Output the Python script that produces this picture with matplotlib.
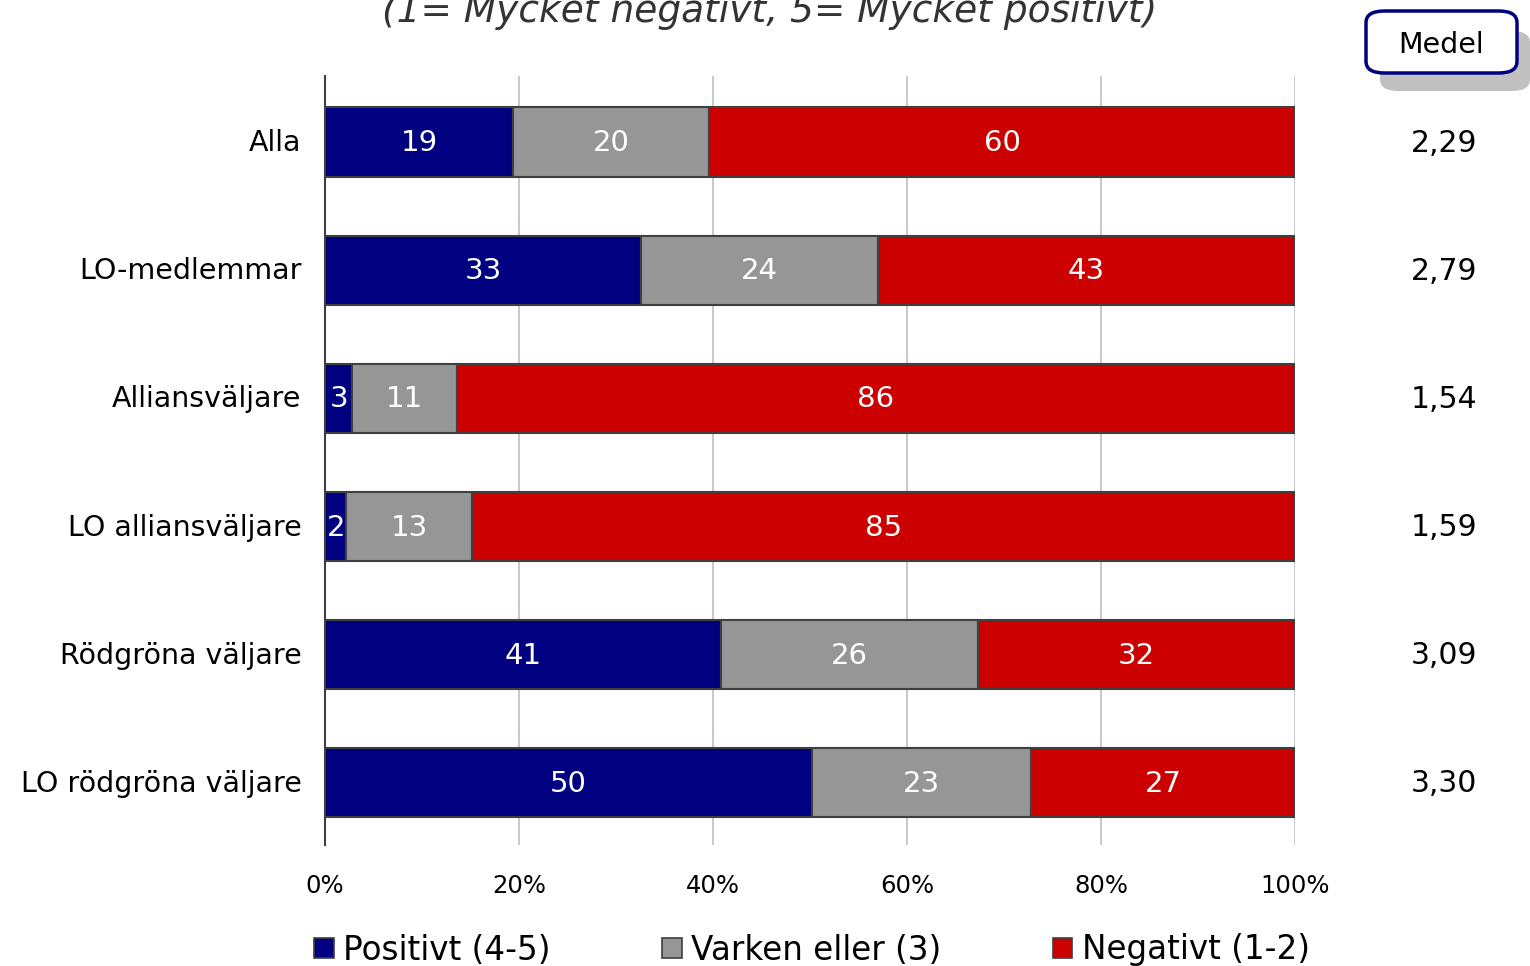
import numpy as np
import matplotlib.pyplot as plt
from matplotlib.patches import FancyBboxPatch, Patch

# data
groups = ['Alla', 'LO-medlemmar', 'Alliansväljare', 'LO alliansväljare',
          'Rödgröna väljare', 'LO rödgröna väljare']
positiv = [19.4, 32.6, 2.8, 2.2, 40.8, 50.2]
varken = [20.2, 24.4, 10.8, 13.0, 26.5, 22.6]
negativ = [60.4, 43.0, 86.4, 84.8, 32.7, 27.2]
lab_pos = ['19', '33', '3', '2', '41', '50']
lab_var = ['20', '24', '11', '13', '26', '23']
lab_neg = ['60', '43', '86', '85', '32', '27']
medel = ['2,29', '2,79', '1,54', '1,59', '3,09', '3,30']
series_names = ['Positivt (4-5)', 'Varken eller (3)', 'Negativt (1-2)']

navy = '#000080'
grey = '#969696'
red = '#cc0000'
edge = '#404040'

fig = plt.figure(figsize=(15.3, 9.66), dpi=100)
ax = fig.add_axes([325/1530, 1-845/966, 970/1530, 769/966])

y = np.arange(len(groups))
h = 0.54
left = np.zeros(len(groups))
for vals, labs, col in [(positiv, lab_pos, navy), (varken, lab_var, grey), (negativ, lab_neg, red)]:
    vals = np.array(vals)
    ax.barh(y + 0.015, vals, left=left, height=h, color=col, edgecolor=edge, linewidth=1.5, zorder=3)
    for i in range(len(groups)):
        ax.text(left[i] + vals[i]/2, y[i], labs[i], ha='center', va='center_baseline',
                color='white', fontsize=21, zorder=4)
    left = left + vals

ax.set_xlim(0, 100)
ax.set_ylim(len(groups) - 0.5, -0.5)
ax.set_xticks([0, 20, 40, 60, 80, 100])
ax.set_xticklabels(['0%', '20%', '40%', '60%', '80%', '100%'], fontsize=17.5)
ax.set_yticks(y)
ax.set_yticklabels(groups, fontsize=20.5)
ax.tick_params(axis='y', length=0, pad=17)
ax.tick_params(axis='x', length=0, pad=21)
ax.grid(axis='x', color='#c0c0c0', linewidth=1.2, zorder=0)
for s in ['top', 'right', 'bottom']:
    ax.spines[s].set_visible(False)
ax.spines['left'].set_color(edge)
ax.spines['left'].set_linewidth(1.5)
ax.spines['left'].set_zorder(5)

# medel column
trans = ax.get_yaxis_transform()
for i, m in enumerate(medel):
    fig_x = 1444/1530
    ax.text((fig_x - 325/1530) / (970/1530), y[i], m, transform=trans,
            ha='center', va='center_baseline', fontsize=21.5, clip_on=False)

# Medel box with shadow
shadow = FancyBboxPatch((1380/1530, 1-91/966), 150/1530, 60/966,
                        boxstyle='round,pad=0,rounding_size=0.012',
                        transform=fig.transFigure, facecolor='#c0c0c0',
                        edgecolor='none', zorder=1)
box = FancyBboxPatch((1366/1530, 1-73/966), 151/1530, 62/966,
                     boxstyle='round,pad=0,rounding_size=0.012',
                     transform=fig.transFigure, facecolor='white',
                     edgecolor=navy, linewidth=2.5, zorder=2)
fig.patches.extend([shadow, box])
fig.text(1441/1530, 1-42/966, 'Medel', ha='center', va='center_baseline', fontsize=20.5, zorder=3)

# title line (upper part is off the canvas)
fig.text(770/1530, 1-22/966, '(1= Mycket negativt, 5= Mycket positivt)', ha='center',
         va='baseline', fontsize=27, style='italic', color='#333333')

handles = [Patch(facecolor=c, edgecolor=edge, linewidth=1.2) for c in [navy, grey, red]]
fig.legend(handles, series_names, loc='center', bbox_to_anchor=(812/1530, 1-950/966),
           ncol=3, frameon=False, fontsize=23.5, handlelength=0.6, handleheight=0.6,
           handletextpad=0.3, columnspacing=3.4, borderaxespad=0)

fig.savefig('out.png', dpi=100)
